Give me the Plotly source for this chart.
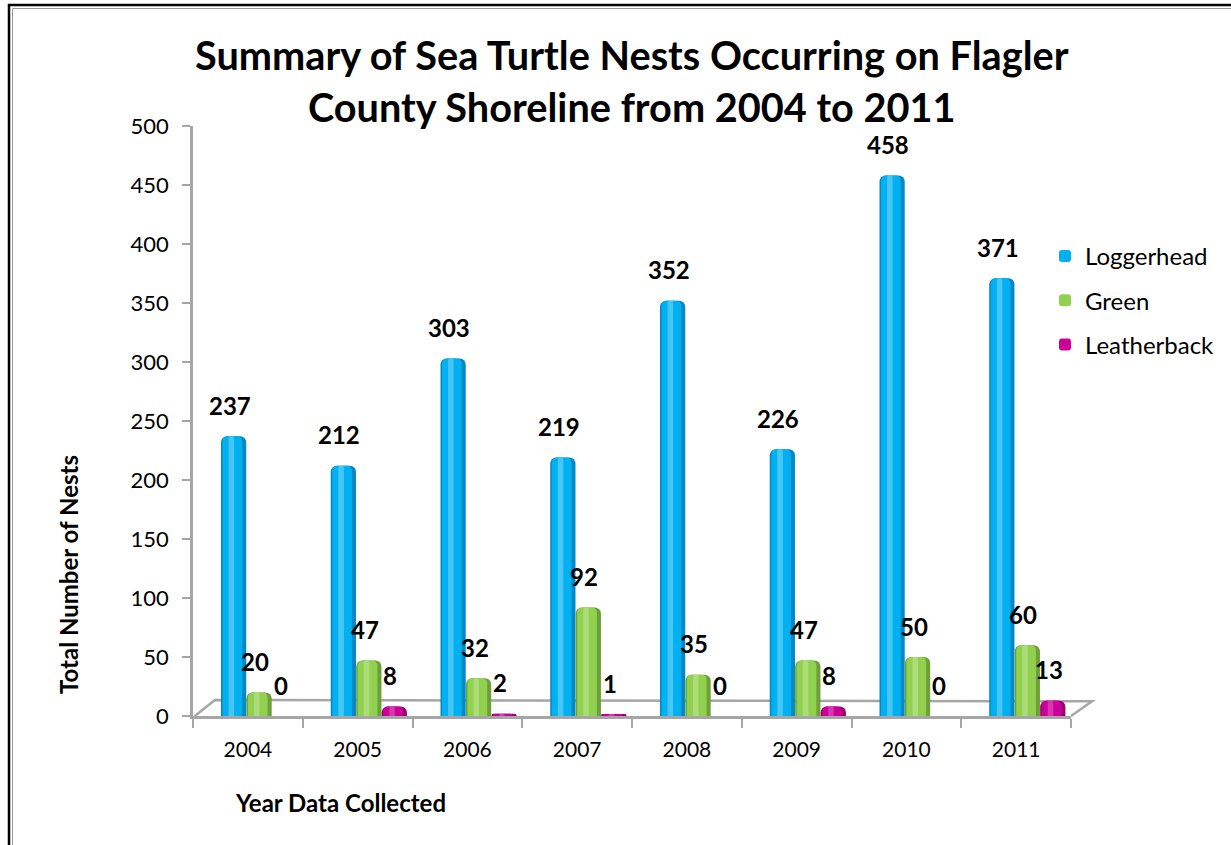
import plotly.graph_objects as go

years = ["2004", "2005", "2006", "2007", "2008", "2009", "2010", "2011"]
loggerhead = [237, 212, 303, 219, 352, 226, 458, 371]
green = [20, 47, 32, 92, 35, 47, 50, 60]
leatherback = [0, 8, 2, 1, 0, 8, 0, 13]

series = [
    ("Loggerhead", loggerhead, "#00B0F0", "#0089C6", "#7ED8F8"),
    ("Green", green, "#92D050", "#6E9F3A", "#C0E79A"),
    ("Leatherback", leatherback, "#CC0099", "#990070", "#E860C4"),
]

W = 1231
H = 845
L, R, T, B = 193, 160, 126, 129
plot_w = W - L - R
plot_h = H - T - B
cat_px = plot_w / len(years)

bar_w = 0.23
offsets = [-0.245, -0.013, 0.219]

fig = go.Figure()
font_main = "Lato, Carlito, 'Open Sans', sans-serif"

for i, (name, vals, main, dark, light) in enumerate(series):
    off = offsets[i]
    # dark edge body
    fig.add_trace(go.Bar(x=years, y=vals, name=name, width=bar_w, offset=off,
                         marker=dict(color=dark, line=dict(width=0), cornerradius=6),
                         showlegend=False, hoverinfo="skip", legendgroup=name))
    # main body
    fig.add_trace(go.Bar(x=years, y=vals, name=name, width=bar_w * 0.78, offset=off + bar_w * 0.06,
                         marker=dict(color=main, line=dict(width=0), cornerradius=5),
                         showlegend=True, legendgroup=name, legendrank=i + 1))
    # highlight stripe
    fig.add_trace(go.Bar(x=years, y=vals, name=name, width=bar_w * 0.22, offset=off + bar_w * 0.3,
                         marker=dict(color=light, line=dict(width=0), cornerradius=3, opacity=0.55),
                         showlegend=False, hoverinfo="skip", legendgroup=name))
    for j, v in enumerate(vals):
        fig.add_annotation(x=j, y=v, xref="x", yref="y", text=f"<b>{v}</b>",
                           showarrow=False, xshift=(off + bar_w / 2) * cat_px - 4,
                           yshift=31, yanchor="middle",
                           font=dict(family=font_main, size=24, color="black"))

# title
fig.add_annotation(x=0.5, y=(716 - 81) / plot_h, xref="paper", yref="paper",
                   text="<b>Summary of Sea Turtle Nests Occurring on Flagler<br>County Shoreline from 2004 to 2011</b>",
                   showarrow=False, xanchor="center", yanchor="middle",
                   font=dict(family=font_main, size=39.7, color="black"))
# axis titles
fig.add_annotation(x=(68 - L) / plot_w, y=(716 - 575) / plot_h, xref="paper", yref="paper",
                   text="<b>Total Number of Nests</b>", textangle=-90, showarrow=False,
                   xanchor="center", yanchor="middle",
                   font=dict(family=font_main, size=24, color="black"))
fig.add_annotation(x=(233 - L) / plot_w, y=(716 - 802) / plot_h, xref="paper", yref="paper",
                   text="<b>Year Data Collected</b>", showarrow=False,
                   xanchor="left", yanchor="middle",
                   font=dict(family=font_main, size=24, color="black"))

# 3D floor outline
fig.add_shape(type="path", xref="paper", yref="paper", layer="below",
              path="M 0.002,0 L 0.025,0.027 L 1.024,0.025 L 1.0,0",
              line=dict(color="#A6A6A6", width=2.5), fillcolor="rgba(0,0,0,0)")

# outer frame
fig.add_shape(type="rect", xref="paper", yref="paper",
              x0=(9 - L) / plot_w, x1=1.6, y0=-0.6, y1=(716 - 5) / plot_h,
              line=dict(color="black", width=2.5))
fig.add_shape(type="rect", xref="paper", yref="paper",
              x0=(12.5 - L) / plot_w, x1=1.6, y0=-0.6, y1=(716 - 8.5) / plot_h,
              line=dict(color="#9A9A9A", width=1))

fig.update_layout(
    width=W, height=H,
    margin=dict(l=L, r=R, t=T, b=B, autoexpand=False),
    barmode="overlay",
    paper_bgcolor="white", plot_bgcolor="white",
    font=dict(family=font_main, size=21, color="black"),
    legend=dict(x=(1045 - L) / plot_w, y=(716 - 234) / plot_h, xanchor="left", yanchor="top",
                font=dict(family=font_main, size=24, color="black"),
                tracegroupgap=10, bgcolor="rgba(0,0,0,0)", itemwidth=30),
    xaxis=dict(type="category", range=[-0.5, 7.5], tickson="boundaries",
               ticks="outside", ticklen=9, tickwidth=2, tickcolor="#A6A6A6",
               showline=True, linecolor="#A6A6A6", linewidth=2.5,
               showgrid=False, zeroline=False, ticklabelstandoff=13,
               tickfont=dict(family=font_main, size=21, color="black")),
    yaxis=dict(range=[0, 500], dtick=50, ticks="outside", ticklen=8, tickwidth=2,
               tickcolor="#A6A6A6", showline=True, linecolor="#A6A6A6", linewidth=2.5,
               showgrid=False, zeroline=False, ticklabelstandoff=9,
               tickfont=dict(family=font_main, size=22, color="black")),
)

fig.write_html("out.html")
